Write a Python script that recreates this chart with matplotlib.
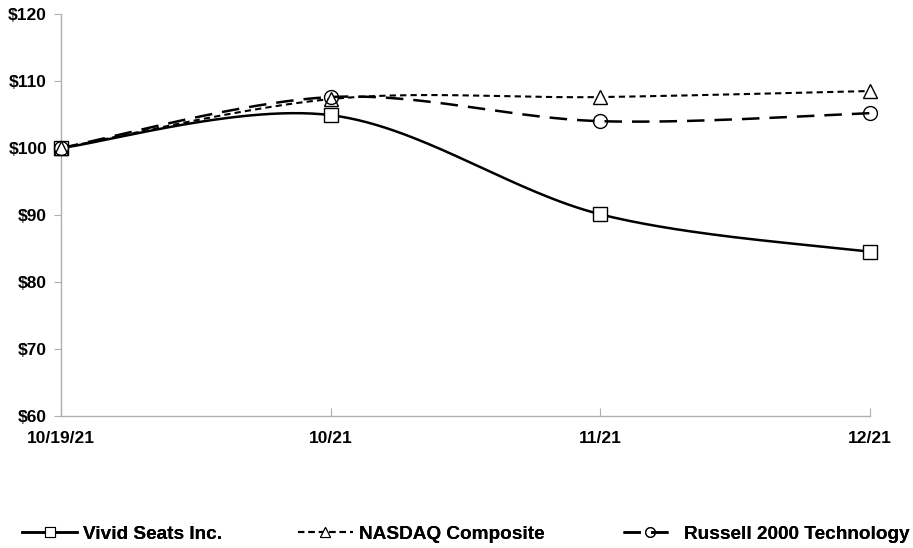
import numpy as np
import matplotlib
matplotlib.use("Agg")
import matplotlib.pyplot as plt
from matplotlib.lines import Line2D

plt.rcParams['font.family'] = ['Liberation Sans', 'DejaVu Sans']
plt.rcParams['font.weight'] = 'bold'

# data
dates = ["10/19/21", "10/21", "11/21", "12/21"]
vivid = [100.0, 104.9, 90.1, 84.5]
nasdaq = [100.0, 107.3, 107.6, 108.5]
russell = [100.0, 107.6, 104.0, 105.2]
yticks = [60, 70, 80, 90, 100, 110, 120]


def smooth(xs, ys, n=60):
    # Excel-style smoothed line: cubic Bezier through the points
    xs = np.asarray(xs, float)
    ys = np.asarray(ys, float)
    px = np.concatenate([[xs[0]], xs, [xs[-1]]])
    py = np.concatenate([[ys[0]], ys, [ys[-1]]])
    outx, outy = [], []
    t = np.linspace(0, 1, n)
    for i in range(1, len(px) - 2):
        p0 = np.array([px[i], py[i]])
        p3 = np.array([px[i + 1], py[i + 1]])
        c1 = p0 + (p3 - np.array([px[i - 1], py[i - 1]])) / 6
        c2 = p3 - (np.array([px[i + 2], py[i + 2]]) - p0) / 6
        b = ((1 - t) ** 3)[:, None] * p0 + (3 * (1 - t) ** 2 * t)[:, None] * c1 \
            + (3 * (1 - t) * t ** 2)[:, None] * c2 + (t ** 3)[:, None] * p3
        outx.extend(b[:, 0])
        outy.extend(b[:, 1])
    return outx, outy


x = np.arange(len(dates))

fig = plt.figure(figsize=(9.13, 5.48), dpi=100)
ax = fig.add_axes([0.0668, 0.2409, 0.8862, 0.7336])

series = [
    ("Vivid Seats Inc.", vivid, "s", "-", None, 1.8, "white"),
    ("NASDAQ Composite", nasdaq, "^", "--", (3, 2), 1.5, "white"),
    ("Russell 2000 Technology", russell, "o", "--", (7, 4), 1.8, "none"),
]

handles = []
for label, vals, mk, ls, dash, lw, fc in series:
    sx, sy = smooth(x, vals)
    line, = ax.plot(sx, sy, color="black", lw=lw, linestyle=ls, clip_on=False, zorder=3)
    if dash is not None:
        line.set_dashes(dash)
    ax.plot(x, vals, linestyle="none", marker=mk, markersize=10, markerfacecolor=fc,
            markeredgecolor="black", markeredgewidth=1.0, clip_on=False, zorder=4)
    h = Line2D([], [], color="black", lw=lw, linestyle=ls, marker=mk, markersize=7,
               markerfacecolor=fc, markeredgecolor="black", markeredgewidth=0.8)
    if dash is not None:
        h.set_dashes(dash)
    handles.append(h)

ax.set_xlim(0, 3)
ax.set_ylim(60, 120)
ax.set_yticks(yticks)
ax.set_yticklabels(["$%d" % v for v in yticks])
ax.set_xticks(x)
ax.set_xticklabels(dates)

for s in ["top", "right"]:
    ax.spines[s].set_visible(False)
for s in ["left", "bottom"]:
    ax.spines[s].set_color("#b0b0b0")
    ax.spines[s].set_linewidth(1.0)

ax.tick_params(axis="y", direction="out", length=5, color="#b0b0b0", labelsize=12.5, pad=5)
ax.tick_params(axis="x", direction="in", length=6, color="#b0b0b0", labelsize=12.5, pad=11)

# three legend entries spread across the bottom
legend_x = [0.024, 0.326, 0.682]
for h, (label, *_), lx in zip(handles, series, legend_x):
    leg = fig.legend([h], [label], loc="center left", bbox_to_anchor=(lx, 0.025),
                     frameon=False, fontsize=13.7, handlelength=2.9,
                     handletextpad=0.3, borderpad=0, borderaxespad=0)
    fig.add_artist(leg)

fig.savefig("out.png", dpi=100)
